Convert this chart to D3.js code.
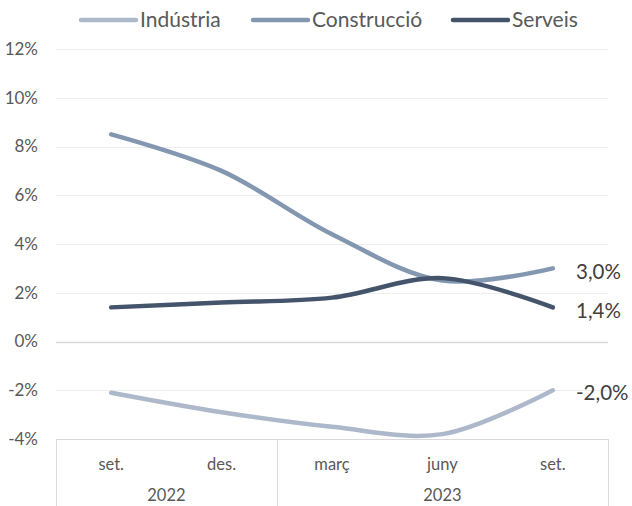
<!DOCTYPE html>
<html><head><meta charset="utf-8">
<script src="https://cdn.jsdelivr.net/npm/d3@7"></script>
<style>
html,body{margin:0;padding:0;background:#fff;}
svg{display:block;font-family:Lato,"Open Sans",sans-serif;}
</style></head>
<body>
<svg id="c" width="632" height="506"></svg>
<script>
const categories = ["set.","des.","març","juny","set."];
const years = [{label:"2022", from:0, to:2},{label:"2023", from:2, to:5}];
const seriesNames = ["Indústria","Construcció","Serveis"];
const industria = [-2.1,-2.9,-3.5,-3.8,-2.0];
const construccio = [8.5,7.0,4.4,2.5,3.0];
const serveis = [1.4,1.6,1.8,2.6,1.4];
const endLabels = ["-2,0%","3,0%","1,4%"];
const yTicks = [-4,-2,0,2,4,6,8,10,12];
const colors = ["#adb9ca","#8497b0","#44546a"];

const series = [industria, construccio, serveis];
const svg = d3.select("#c");
const mLeft = 56, mRight = 608, mTop = 49, mBottom = 439;

const x = d3.scaleBand().domain(d3.range(categories.length)).range([mLeft,mRight]).padding(0);
const y = d3.scaleLinear().domain([-4,12]).range([mBottom,mTop]);

// gridlines
svg.append("g").selectAll("line").data(yTicks).join("line")
  .attr("x1",mLeft).attr("x2",mRight)
  .attr("y1",d=>Math.round(y(d))+0.5).attr("y2",d=>Math.round(y(d))+0.5)
  .attr("stroke",d=>(d===0||d===-4)?"#d9d9d9":"#eeeeee")
  .attr("stroke-width",d=>d===0?1.5:1);

// y labels
svg.append("g").selectAll("text").data(yTicks).join("text")
  .attr("x",38).attr("y",d=>y(d)).attr("dy","0.35em")
  .attr("text-anchor","end").attr("fill","#595959").attr("font-size",17)
  .text(d=>d+"%");

// category axis separators
const seps = [0,2,5];
svg.append("g").selectAll("line").data(seps).join("line")
  .attr("x1",d=>Math.round(mLeft + d*x.bandwidth())+0.5)
  .attr("x2",d=>Math.round(mLeft + d*x.bandwidth())+0.5)
  .attr("y1",mBottom).attr("y2",506)
  .attr("stroke","#d9d9d9").attr("stroke-width",1);

svg.append("g").selectAll("text").data(categories).join("text")
  .attr("x",(d,i)=>x(i)+x.bandwidth()/2).attr("y",464).attr("dy","0.35em")
  .attr("text-anchor","middle").attr("fill","#595959").attr("font-size",16.5)
  .text(d=>d);

svg.append("g").selectAll("text").data(years).join("text")
  .attr("x",d=>(x(d.from) + (d.to>=categories.length? mRight : x(d.to)))/2)
  .attr("y",495).attr("dy","0.35em")
  .attr("text-anchor","middle").attr("fill","#595959").attr("font-size",16.5)
  .text(d=>d.label);

// lines
const line = d3.line().x((d,i)=>x(i)+x.bandwidth()/2).y(d=>y(d)).curve(d3.curveCatmullRom.alpha(0.5));
svg.append("g").selectAll("path").data(series).join("path")
  .attr("d",d=>line(d)).attr("fill","none")
  .attr("stroke",(d,i)=>colors[i]).attr("stroke-width",4.5).attr("stroke-linecap","round");

// end labels
svg.append("g").selectAll("text").data(series).join("text")
  .attr("x",576).attr("y",(d,i)=>y(d[d.length-1]) + 3)
  .attr("dy","0.35em").attr("fill","#404040").attr("font-size",20.5)
  .text((d,i)=>endLabels[i]);

// legend
const legX = [81,253,453];
const lg = svg.append("g").selectAll("g").data(seriesNames).join("g")
  .attr("transform",(d,i)=>`translate(${legX[i]},20)`);
lg.append("line").attr("x1",0).attr("x2",55).attr("y1",0).attr("y2",0)
  .attr("stroke",(d,i)=>colors[i]).attr("stroke-width",4.5).attr("stroke-linecap","round");
lg.append("text").attr("x",59).attr("y",0).attr("dy","0.35em")
  .attr("fill","#595959").attr("font-size",21).text(d=>d);
</script>
</body></html>
